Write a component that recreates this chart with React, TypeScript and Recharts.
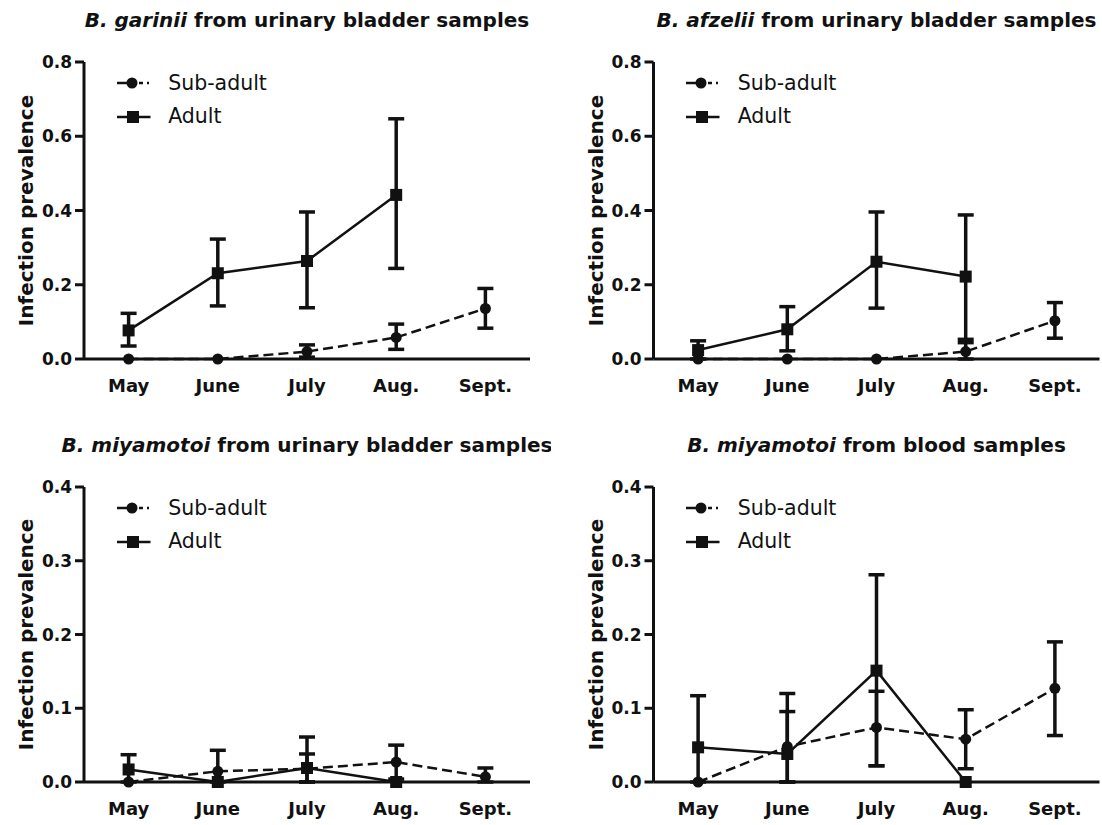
import React from 'react'
import { LineChart, Line, XAxis, YAxis, ErrorBar, Legend } from 'recharts'

const months = ['May', 'June', 'July', 'Aug.', 'Sept.']
const seriesNames = ['Sub-adult', 'Adult']

// B. garinii, urinary bladder
const garSub = [0, 0, 0.02, 0.058, 0.136]
const garSubLow = [null, null, 0.005, 0.026, 0.083]
const garSubHigh = [null, null, 0.038, 0.094, 0.19]
const garAdult = [0.077, 0.231, 0.264, 0.442, null]
const garAdultLow = [0.035, 0.143, 0.138, 0.244, null]
const garAdultHigh = [0.123, 0.323, 0.396, 0.647, null]

// B. afzelii, urinary bladder
const afzSub = [0, 0, 0, 0.02, 0.103]
const afzSubLow = [null, null, null, 0, 0.056]
const afzSubHigh = [null, null, null, 0.044, 0.152]
const afzAdult = [0.024, 0.08, 0.262, 0.222, null]
const afzAdultLow = [0, 0.022, 0.137, 0.053, null]
const afzAdultHigh = [0.049, 0.141, 0.396, 0.388, null]

// B. miyamotoi, urinary bladder
const miyBSub = [0, 0.0145, 0.018, 0.027, 0.007]
const miyBSubLow = [null, 0, 0, 0.004, 0]
const miyBSubHigh = [null, 0.043, 0.038, 0.05, 0.019]
const miyBAdult = [0.017, 0, 0.019, 0, null]
const miyBAdultLow = [0, null, 0, null, null]
const miyBAdultHigh = [0.037, null, 0.061, null, null]

// B. miyamotoi, blood
const miyKSub = [0, 0.048, 0.074, 0.058, 0.127]
const miyKSubLow = [null, 0, 0.022, 0.018, 0.063]
const miyKSubHigh = [null, 0.0955, 0.123, 0.098, 0.19]
const miyKAdult = [0.047, 0.038, 0.151, 0, null]
const miyKAdultLow = [0, 0, 0.022, null, null]
const miyKAdultHigh = [0.117, 0.12, 0.281, null, null]

const ticksHigh = [0, 0.2, 0.4, 0.6, 0.8]
const ticksLow = [0, 0.1, 0.2, 0.3, 0.4]

const INK = '#111'
const FONT = '"DejaVu Sans", sans-serif'

type Num = number | null

function buildRows(sub: Num[], subLow: Num[], subHigh: Num[], ad: Num[], adLow: Num[], adHigh: Num[]) {
  return months.map((m, i) => ({
    month: m,
    sub: sub[i],
    subErr: sub[i] == null || subLow[i] == null ? null : [sub[i]! - subLow[i]!, subHigh[i]! - sub[i]!],
    adult: ad[i],
    adultErr: ad[i] == null || adLow[i] == null ? null : [ad[i]! - adLow[i]!, adHigh[i]! - ad[i]!],
  }))
}

const renderSquare = (props: any) => {
  const { cx, cy, index } = props
  if (cx == null || cy == null) return <g key={`sq-${index}`} />
  return <rect key={`sq-${index}`} x={cx - 6} y={cy - 6} width={12} height={12} fill={INK} />
}

const renderLegend = (props: any) => {
  // keep the series order of the original figure (Sub-adult first)
  const items = [...(props.payload || [])].sort(
    (a: any, b: any) => seriesNames.indexOf(a.value) - seriesNames.indexOf(b.value)
  )
  return (
    <div style={{ fontFamily: FONT, fontSize: 20.5, color: INK, lineHeight: 1 }}>
      {items.map((entry: any) => (
        <div key={entry.value} style={{ display: 'flex', alignItems: 'center', height: 33.4 }}>
          <svg width={34} height={14} style={{ marginRight: 17.5 }}>
            {entry.dataKey === 'sub' ? (
              <g>
                <line x1={0} y1={7} x2={32} y2={7} stroke={INK} strokeWidth={2.5} strokeDasharray="20 2 4 4 2 10" />
                <circle cx={15} cy={7} r={5.5} fill={INK} />
              </g>
            ) : (
              <g>
                <line x1={0} y1={7} x2={33.5} y2={7} stroke={INK} strokeWidth={2.5} />
                <rect x={10} y={1} width={12} height={12} fill={INK} />
              </g>
            )}
          </svg>
          <span>{entry.value}</span>
        </div>
      ))}
    </div>
  )
}

type PanelProps = {
  left: number
  top: number
  height: number
  shift: number
  plotTop: number
  plotBottom: number
  species: string
  source: string
  rows: any[]
  yMax: number
  yTicks: number[]
}

function Panel({ left, top, height, shift, plotTop, plotBottom, species, source, rows, yMax, yTicks }: PanelProps) {
  const width = 551
  const axisWidth = 84
  const plotWidth = 446
  const plotLeft = shift + axisWidth
  const xAxisHeight = 40
  const tickFont = { fill: INK, fontFamily: FONT, fontWeight: 'bold' as const }
  return (
    <div style={{ position: 'absolute', left, top, width, height }}>
      <LineChart
        width={width}
        height={height}
        data={rows}
        margin={{ top: plotTop, right: width - plotLeft - plotWidth, bottom: height - plotBottom - xAxisHeight, left: shift }}
      >
        <XAxis
          dataKey="month"
          height={xAxisHeight}
          padding={{ left: plotWidth / 10, right: plotWidth / 10 }}
          axisLine={{ stroke: INK, strokeWidth: 3 }}
          tickLine={false}
          tickSize={6}
          tickMargin={14}
          tick={{ ...tickFont, fontSize: 18 }}
          interval={0}
        />
        <YAxis
          type="number"
          width={axisWidth}
          domain={[0, yMax]}
          ticks={yTicks}
          tickFormatter={(v: number) => v.toFixed(1)}
          axisLine={{ stroke: INK, strokeWidth: 3 }}
          tickLine={{ stroke: INK, strokeWidth: 3 }}
          tickSize={9}
          tickMargin={3}
          tick={{ ...tickFont, fontSize: 17 }}
        />
        <Legend
          layout="vertical"
          align="center"
          verticalAlign="middle"
          wrapperStyle={{ left: plotLeft + 32.7, top: plotTop + 4.6, width: 200 }}
          content={renderLegend}
        />
        <Line
          dataKey="sub"
          name={seriesNames[0]}
          stroke={INK}
          strokeWidth={2.5}
          strokeDasharray="10 5"
          dot={{ r: 5.5, fill: INK, stroke: INK, strokeWidth: 0 }}
          activeDot={false}
          isAnimationActive={false}
        >
          <ErrorBar dataKey="subErr" width={8} stroke={INK} strokeWidth={3.5} direction="y" isAnimationActive={false} />
        </Line>
        <Line
          dataKey="adult"
          name={seriesNames[1]}
          stroke={INK}
          strokeWidth={2.5}
          dot={renderSquare}
          activeDot={false}
          isAnimationActive={false}
        >
          <ErrorBar dataKey="adultErr" width={8} stroke={INK} strokeWidth={3.5} direction="y" isAnimationActive={false} />
        </Line>
      </LineChart>
      <svg
        width={width}
        height={height}
        style={{ position: 'absolute', left: 0, top: 0, pointerEvents: 'none' }}
      >
        <text
          x={plotLeft + plotWidth / 2}
          y={plotTop - 35}
          textAnchor="middle"
          fontFamily={FONT}
          fontWeight="bold"
          fontSize={20}
          fill={INK}
          style={{ whiteSpace: 'pre' }}
        >
          <tspan fontStyle="italic">{species}</tspan>
          <tspan>{' ' + source}</tspan>
        </text>
        <text
          transform={`translate(${shift + 33}, ${(plotTop + plotBottom) / 2}) rotate(-90)`}
          textAnchor="middle"
          fontFamily={FONT}
          fontWeight="bold"
          fontSize={20}
          fill={INK}
        >
          Infection prevalence
        </text>
      </svg>
    </div>
  )
}

export default function App() {
  const garRows = buildRows(garSub, garSubLow, garSubHigh, garAdult, garAdultLow, garAdultHigh)
  const afzRows = buildRows(afzSub, afzSubLow, afzSubHigh, afzAdult, afzAdultLow, afzAdultHigh)
  const miyBRows = buildRows(miyBSub, miyBSubLow, miyBSubHigh, miyBAdult, miyBAdultLow, miyBAdultHigh)
  const miyKRows = buildRows(miyKSub, miyKSubLow, miyKSubHigh, miyKAdult, miyKAdultLow, miyKAdultHigh)
  return (
    <div style={{ position: 'absolute', left: 0, top: 0, width: 1102, height: 825, background: '#fff', overflow: 'hidden' }}>
      <Panel left={0} top={0} height={412} shift={0} plotTop={62} plotBottom={359}
        species="B. garinii" source="from urinary bladder samples" rows={garRows} yMax={0.8} yTicks={ticksHigh} />
      <Panel left={551} top={0} height={412} shift={18.5} plotTop={62} plotBottom={359}
        species="B. afzelii" source="from urinary bladder samples" rows={afzRows} yMax={0.8} yTicks={ticksHigh} />
      <Panel left={0} top={412} height={413} shift={0} plotTop={75} plotBottom={370}
        species="B. miyamotoi" source="from urinary bladder samples" rows={miyBRows} yMax={0.4} yTicks={ticksLow} />
      <Panel left={551} top={412} height={413} shift={18.5} plotTop={75} plotBottom={370}
        species="B. miyamotoi" source="from blood samples" rows={miyKRows} yMax={0.4} yTicks={ticksLow} />
    </div>
  )
}
